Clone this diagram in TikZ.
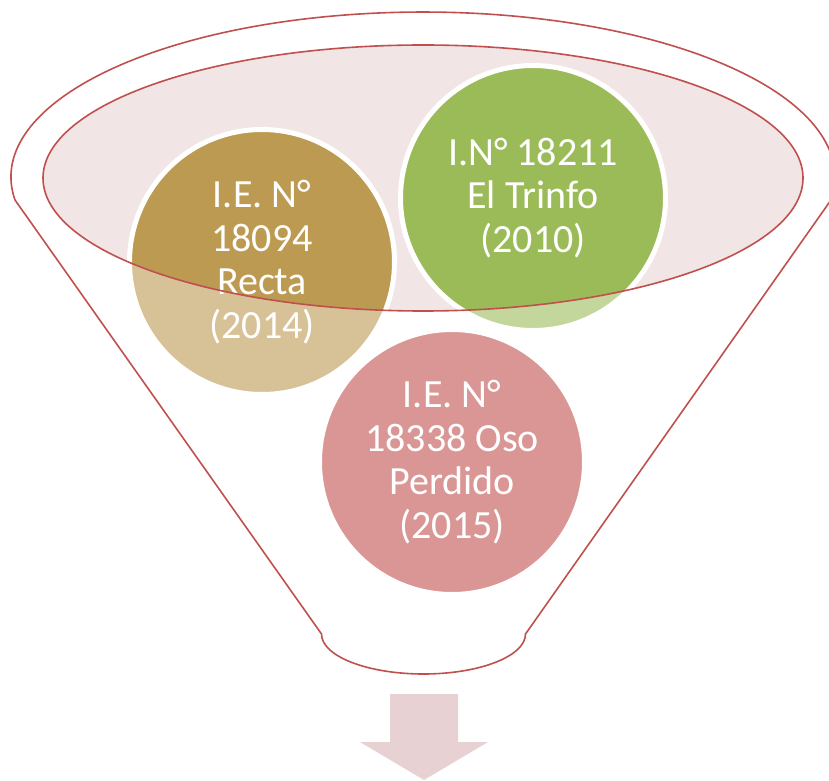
\documentclass[tikz,border=0pt]{standalone}
\usepackage{fontspec}
\setmainfont{Carlito}
\definecolor{funnelred}{HTML}{C0504D}
\definecolor{funnelpink}{HTML}{F2E5E5}
\definecolor{arrowpink}{HTML}{E8D1D2}
\definecolor{recta}{HTML}{BD9A52}
\definecolor{trinfo}{HTML}{9BBB59}
\definecolor{perdido}{HTML}{C0504D}
\begin{document}
\begin{tikzpicture}[x=1pt,y=1pt,line width=1.6pt,
school/.style={circle,inner sep=0pt,minimum size=265pt,draw=white,line width=5pt},
schooltext/.style={text=white,align=center,inner sep=0pt,font=\fontsize{40}{43.5}\selectfont}]
\useasboundingbox (0,0) rectangle (829,780);
% funnel
\draw[funnelred] (15,580) arc[start angle=188,end angle=-8,x radius=412,y radius=165] -- (525.5,146) arc[start angle=0,end angle=-180,x radius=102,y radius=40] -- cycle;
% faded circles
\draw (262,518) node[school,fill=recta,fill opacity=.6] (rectaL) {};
\draw (533,582) node[school,fill=trinfo,fill opacity=.6] (trinfoL) {};
\draw (452,318) node[school,fill=perdido,fill opacity=.6] (perdido) {};
% mouth of the funnel
\fill[funnelpink] (423,602) ellipse[x radius=380,y radius=133];
\begin{scope}
\clip (423,602) ellipse[x radius=380,y radius=133];
\draw (262,518) node[school,fill=recta] (recta) {};
\draw (533,582) node[school,fill=trinfo] (trinfo) {};
\end{scope}
\node[schooltext] at (recta) {I.E. N°\\18094\\Recta\\(2014)};
\node[schooltext] at (trinfo) {I.N° 18211\\El Trinfo\\(2010)};
\node[schooltext] at (perdido) {I.E. N°\\18338 Oso\\Perdido\\(2015)};
\draw[funnelred] (423,602) ellipse[x radius=380,y radius=133];
% arrow
\fill[arrowpink] (390,86) -- (458,86) -- (458,38) -- (488,38) -- (424,0) -- (360,38) -- (390,38) -- cycle;
\end{tikzpicture}
\end{document}
